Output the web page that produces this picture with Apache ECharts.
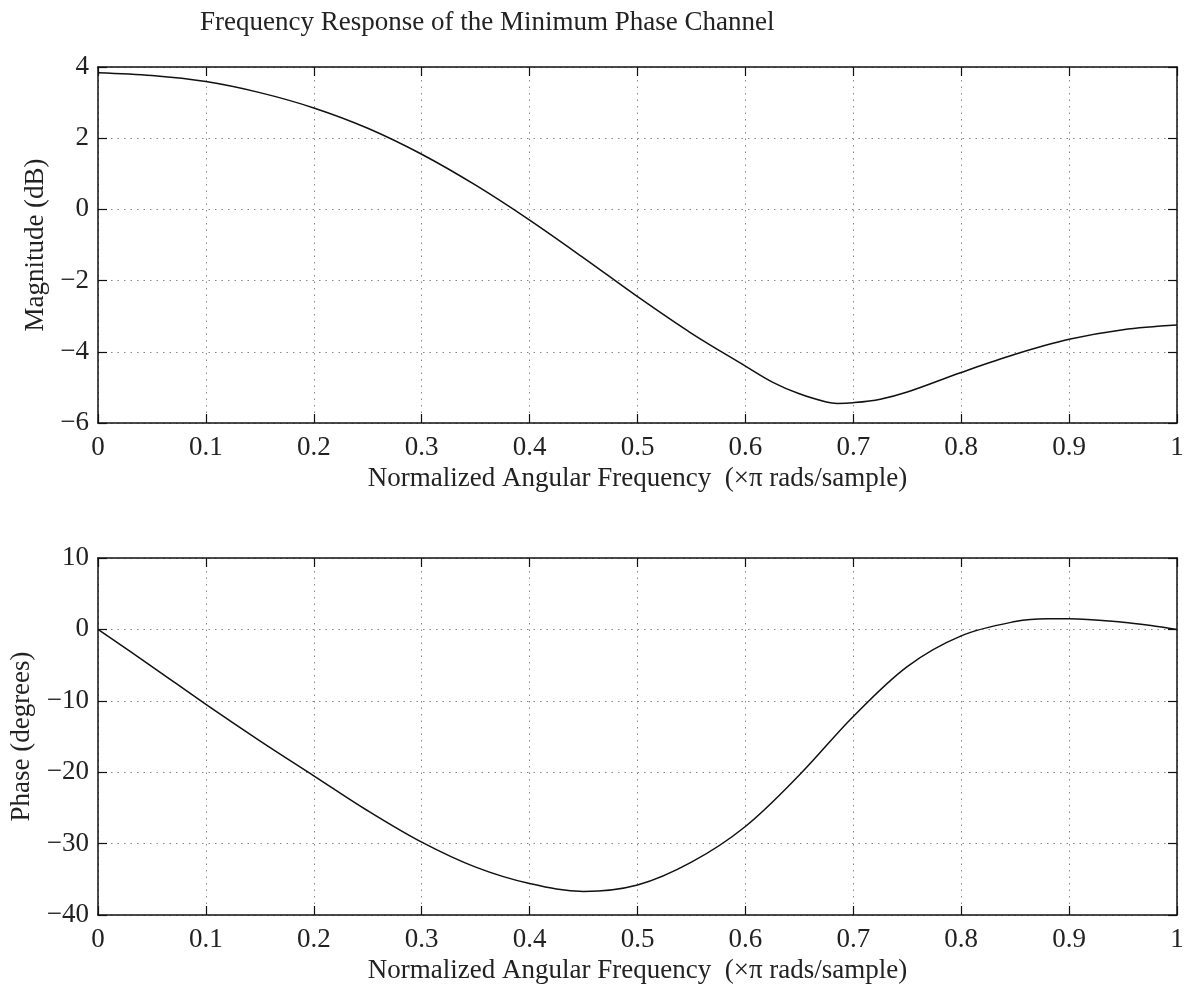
<!DOCTYPE html>
<html>
<head>
<meta charset="utf-8">
<script src="https://cdn.jsdelivr.net/npm/echarts@6/dist/echarts.min.js"></script>
<style>html,body{margin:0;padding:0;background:#fff}#c{width:1185px;height:988px}</style>
</head>
<body>
<div id="c"></div>
<script>
// Data
const magFreq = [0, 0.05, 0.1, 0.15, 0.2, 0.25, 0.3, 0.35, 0.4, 0.45, 0.5, 0.55, 0.6, 0.625, 0.65, 0.675, 0.685, 0.7, 0.725, 0.75, 0.8, 0.85, 0.9, 0.95, 1.0];
const magDb   = [3.84, 3.76, 3.59, 3.28, 2.85, 2.28, 1.55, 0.68, -0.3, -1.36, -2.45, -3.48, -4.4, -4.85, -5.18, -5.41, -5.45, -5.43, -5.33, -5.13, -4.58, -4.07, -3.65, -3.38, -3.25];
const phFreq  = [0, 0.05, 0.1, 0.15, 0.2, 0.25, 0.3, 0.35, 0.4, 0.45, 0.5, 0.55, 0.6, 0.65, 0.7, 0.75, 0.8, 0.85, 0.88, 0.9, 0.95, 0.98, 1.0];
const phDeg   = [0, -5.2, -10.5, -15.6, -20.5, -25.4, -29.8, -33.3, -35.6, -36.7, -35.8, -32.6, -27.6, -20.4, -12.2, -5.2, -0.9, 1.1, 1.5, 1.5, 1.0, 0.45, 0];
const xTicks = [0, 0.1, 0.2, 0.3, 0.4, 0.5, 0.6, 0.7, 0.8, 0.9, 1];
const titleText = 'Frequency Response of the Minimum Phase Channel';
const xName = 'Normalized Angular Frequency  (×π rads/sample)';
const magName = 'Magnitude (dB)';
const phName = 'Phase (degrees)';

const FONT = 'Liberation Serif';
const TXT = '#222';
const fmtX = v => { const r = Math.round(v * 10) / 10; return (r === 0 || r === 1) ? String(r) : r.toFixed(1); };
const fmtY = v => String(Math.round(v)).replace('-', '\u2212');

function xMain(gi) {
  return {
    type: 'value', gridIndex: gi, min: 0, max: 1, interval: 0.1, position: 'bottom',
    name: xName, nameLocation: 'middle', nameGap: 42,
    nameTextStyle: { fontFamily: FONT, fontSize: 27, color: TXT },
    axisLine: { show: true, onZero: false, lineStyle: { color: '#111', width: 1.5 } },
    axisTick: { show: true, inside: true, length: 9, lineStyle: { color: '#111', width: 1.2 } },
    axisLabel: { fontFamily: FONT, fontSize: 27, color: TXT, margin: 11, formatter: fmtX },
    splitLine: { show: true, lineStyle: { color: '#8a8a8a', type: [1.5, 5], width: 1 } }
  };
}
function xTop(gi) {
  return {
    type: 'value', gridIndex: gi, min: 0, max: 1, interval: 0.1, position: 'top',
    axisLine: { show: true, onZero: false, lineStyle: { color: '#111', width: 1.5 } },
    axisTick: { show: true, inside: true, length: 9, lineStyle: { color: '#111', width: 1.2 } },
    axisLabel: { show: false }, splitLine: { show: false }
  };
}
function yMain(gi, min, max, interval, name, gap) {
  return {
    type: 'value', gridIndex: gi, min, max, interval, position: 'left',
    name, nameLocation: 'middle', nameGap: gap, nameRotate: 90,
    nameTextStyle: { fontFamily: FONT, fontSize: 27, color: TXT },
    axisLine: { show: true, onZero: false, lineStyle: { color: '#111', width: 1.5 } },
    axisTick: { show: true, inside: true, length: 9, lineStyle: { color: '#111', width: 1.2 } },
    axisLabel: { fontFamily: FONT, fontSize: 27, color: TXT, margin: 9, formatter: fmtY },
    splitLine: { show: true, lineStyle: { color: '#8a8a8a', type: [1.5, 5], width: 1 } }
  };
}
function yRight(gi, min, max, interval) {
  return {
    type: 'value', gridIndex: gi, min, max, interval, position: 'right',
    axisLine: { show: true, onZero: false, lineStyle: { color: '#111', width: 1.5 } },
    axisTick: { show: true, inside: true, length: 9, lineStyle: { color: '#111', width: 1.2 } },
    axisLabel: { show: false }, splitLine: { show: false }
  };
}

const chart = echarts.init(document.getElementById('c'), null, { renderer: 'canvas' });
chart.setOption({
  backgroundColor: '#fff',
  animation: false,
  title: { text: titleText, left: 195, top: 4, textStyle: { fontFamily: FONT, fontSize: 27, fontWeight: 'normal', color: TXT } },
  grid: [
    { left: 98, top: 67, width: 1079, height: 356, outerBoundsMode: 'none', containLabel: false },
    { left: 98, top: 558, width: 1079, height: 357, outerBoundsMode: 'none', containLabel: false }
  ],
  xAxis: [xMain(0), xTop(0), xMain(1), xTop(1)],
  yAxis: [yMain(0, -6, 4, 2, magName, 42), yRight(0, -6, 4, 2), yMain(1, -40, 10, 10, phName, 63), yRight(1, -40, 10, 10)],
  series: [
    { type: 'line', xAxisIndex: 0, yAxisIndex: 0, data: magFreq.map((f, i) => [f, magDb[i]]), smooth: 0.35, showSymbol: false, lineStyle: { color: '#111', width: 1.5 } },
    { type: 'line', xAxisIndex: 2, yAxisIndex: 2, data: phFreq.map((f, i) => [f, phDeg[i]]), smooth: 0.35, showSymbol: false, lineStyle: { color: '#111', width: 1.5 } }
  ]
});
</script>
</body>
</html>
